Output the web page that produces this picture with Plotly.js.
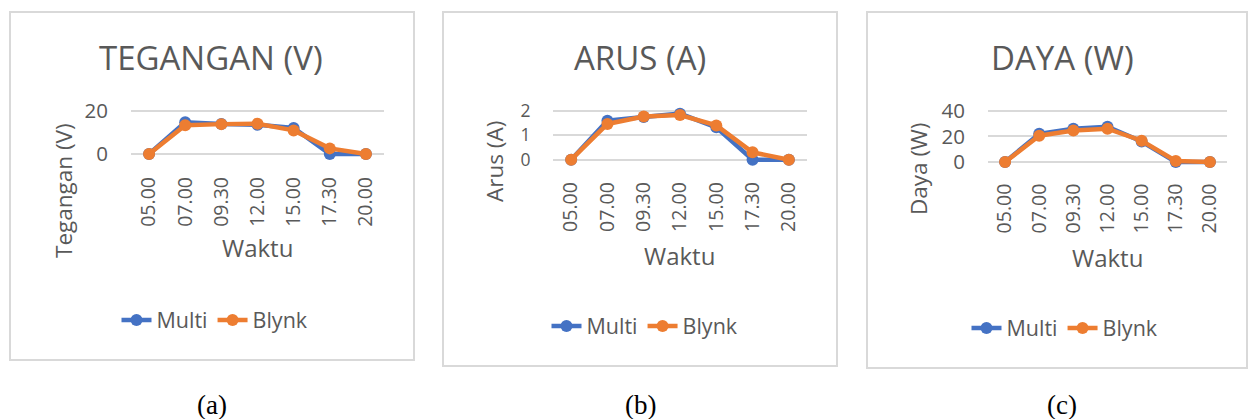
<!DOCTYPE html>
<html><head><meta charset="utf-8">
<script src="https://cdn.plot.ly/plotly-3.0.1.min.js"></script>
<style>html,body{margin:0;padding:0;background:#fff;}#chart{width:1248px;height:419px;}</style>
</head><body><div id="chart"></div>
<script>
// ---- data ----
const times = ['05.00','07.00','09.30','12.00','15.00','17.30','20.00'];
const teganganMulti = [0, 14.7, 13.9, 13.5, 12.0, 0, 0];
const teganganBlynk = [0, 13.3, 13.8, 14.0, 10.9, 2.6, 0];
const arusMulti = [0, 1.59, 1.74, 1.88, 1.32, 0, 0];
const arusBlynk = [0, 1.46, 1.76, 1.82, 1.40, 0.30, 0];
const dayaMulti = [0, 22.0, 26.0, 27.5, 16.0, 0, 0];
const dayaBlynk = [0, 20.5, 24.5, 26.0, 16.6, 0.8, 0];
const seriesNames = ['Multi', 'Blynk'];
const panelTitles = ['TEGANGAN (V)', 'ARUS (A)', 'DAYA (W)'];
const yTitles = ['Tegangan (V)', 'Arus (A)', 'Daya (W)'];
const xTitle = 'Waktu';
const captions = ['(a)', '(b)', '(c)'];
const yTicks = [[0, 20], [0, 1, 2], [0, 20, 40]];

// ---- layout helpers ----
const W = 1248, H = 419;
const BLUE = '#4472C4', ORANGE = '#ED7D31', TXT = '#595959', GRID = '#d9d9d9';
const FONT = 'Open Sans';
function px(x){ return x / W; }
function py(y){ return 1 - y / H; }
function ydom(pxLow, vLow, pxHigh, vHigh, r0, r1){
  const k = (pxLow - pxHigh) / (vHigh - vLow);
  const pb = pxLow + (vLow - r0) * k;
  const pt = pxHigh - (r1 - vHigh) * k;
  return [py(pb), py(pt)];
}

const panels = [
  {x0:131, x1:384, lowPx:154, highPx:110.7, lowV:0, highV:20, range:[-1.5,21], xlen:11, ytf:20.5, box:[10,12,414,360],
   tcx:211, ytx:63, ytcy:191, wx:257, wy:248, legx:215, legy:320, capx:212, multi:teganganMulti, blynk:teganganBlynk},
  {x0:553, x1:807, lowPx:159.7, highPx:110.7, lowV:0, highV:2, range:[-0.15,2.1], xlen:10, ytf:17.5, box:[443,12,837,366],
   tcx:640, ytx:494, ytcy:162, wx:679, wy:255, legx:645, legy:326, capx:640, multi:arusMulti, blynk:arusBlynk},
  {x0:988, x1:1227, lowPx:162, highPx:110.7, lowV:0, highV:40, range:[-3,42], xlen:9, ytf:20.5, box:[867,12,1247,368],
   tcx:1062, ytx:918, ytcy:169, wx:1107, wy:257, legx:1065, legy:328, capx:1062, multi:dayaMulti, blynk:dayaBlynk}
];

const data = [];
const layout = {
  width: W, height: H, margin:{l:0,r:0,t:0,b:0},
  paper_bgcolor:'#fff', plot_bgcolor:'rgba(0,0,0,0)',
  font:{family:FONT, color:TXT, size:20},
  shapes: [], annotations: [], hovermode:false
};

panels.forEach((p, i) => {
  const sfx = i === 0 ? '' : String(i + 1);
  const xa = 'x' + sfx, ya = 'y' + sfx, lg = 'legend' + sfx;
  [[p.multi, BLUE, seriesNames[0]], [p.blynk, ORANGE, seriesNames[1]]].forEach(([vals, col, nm]) => {
    data.push({type:'scatter', mode:'lines+markers', x:times, y:vals, name:nm,
      xaxis:xa, yaxis:ya, legend:lg, cliponaxis:false,
      line:{color:col, width:4.5}, marker:{color:col, size:12}});
  });
  layout['xaxis' + sfx] = {domain:[px(p.x0), px(p.x1)], type:'category', range:[-0.5, 6.5],
    anchor:ya, showgrid:false, zeroline:false, showline:false, tickangle:-90,
    ticks:'outside', ticklen:p.xlen, tickcolor:'rgba(0,0,0,0)', tickfont:{size:19.5, color:TXT}, fixedrange:true};
  layout['yaxis' + sfx] = {domain:ydom(p.lowPx, p.lowV, p.highPx, p.highV, p.range[0], p.range[1]),
    range:p.range, anchor:xa, tickvals:yTicks[i], showgrid:true, gridcolor:GRID, gridwidth:2,
    zeroline:false, showline:false, ticks:'outside', ticklen:18, tickcolor:'rgba(0,0,0,0)',
    tickfont:{size:p.ytf, color:TXT}, fixedrange:true};
  layout[lg] = {orientation:'h', x:px(p.legx), y:py(p.legy), xanchor:'center', yanchor:'middle',
    font:{size:21.5, color:TXT}, bgcolor:'rgba(0,0,0,0)', itemclick:false, itemdoubleclick:false};
  layout.shapes.push({type:'rect', xref:'paper', yref:'paper', x0:px(p.box[0]), x1:px(p.box[2]),
    y0:py(p.box[3]), y1:py(p.box[1]), line:{color:GRID, width:2}});
  layout.annotations.push({text:panelTitles[i], xref:'paper', yref:'paper', x:px(p.tcx), y:py(58),
    xanchor:'center', yanchor:'middle', showarrow:false, font:{size:33, color:TXT}});
  layout.annotations.push({text:yTitles[i], xref:'paper', yref:'paper', x:px(p.ytx), y:py(p.ytcy),
    xanchor:'center', yanchor:'middle', textangle:-90, showarrow:false, font:{size:22.5, color:TXT}});
  layout.annotations.push({text:xTitle, xref:'paper', yref:'paper', x:px(p.wx), y:py(p.wy),
    xanchor:'center', yanchor:'middle', showarrow:false, font:{size:24, color:TXT}});
  layout.annotations.push({text:captions[i], xref:'paper', yref:'paper', x:px(p.capx), y:py(405),
    xanchor:'center', yanchor:'middle', showarrow:false, font:{family:'Liberation Serif', size:27, color:'#000'}});
});

Plotly.newPlot('chart', data, layout, {displayModeBar:false, staticPlot:true});
</script></body></html>
